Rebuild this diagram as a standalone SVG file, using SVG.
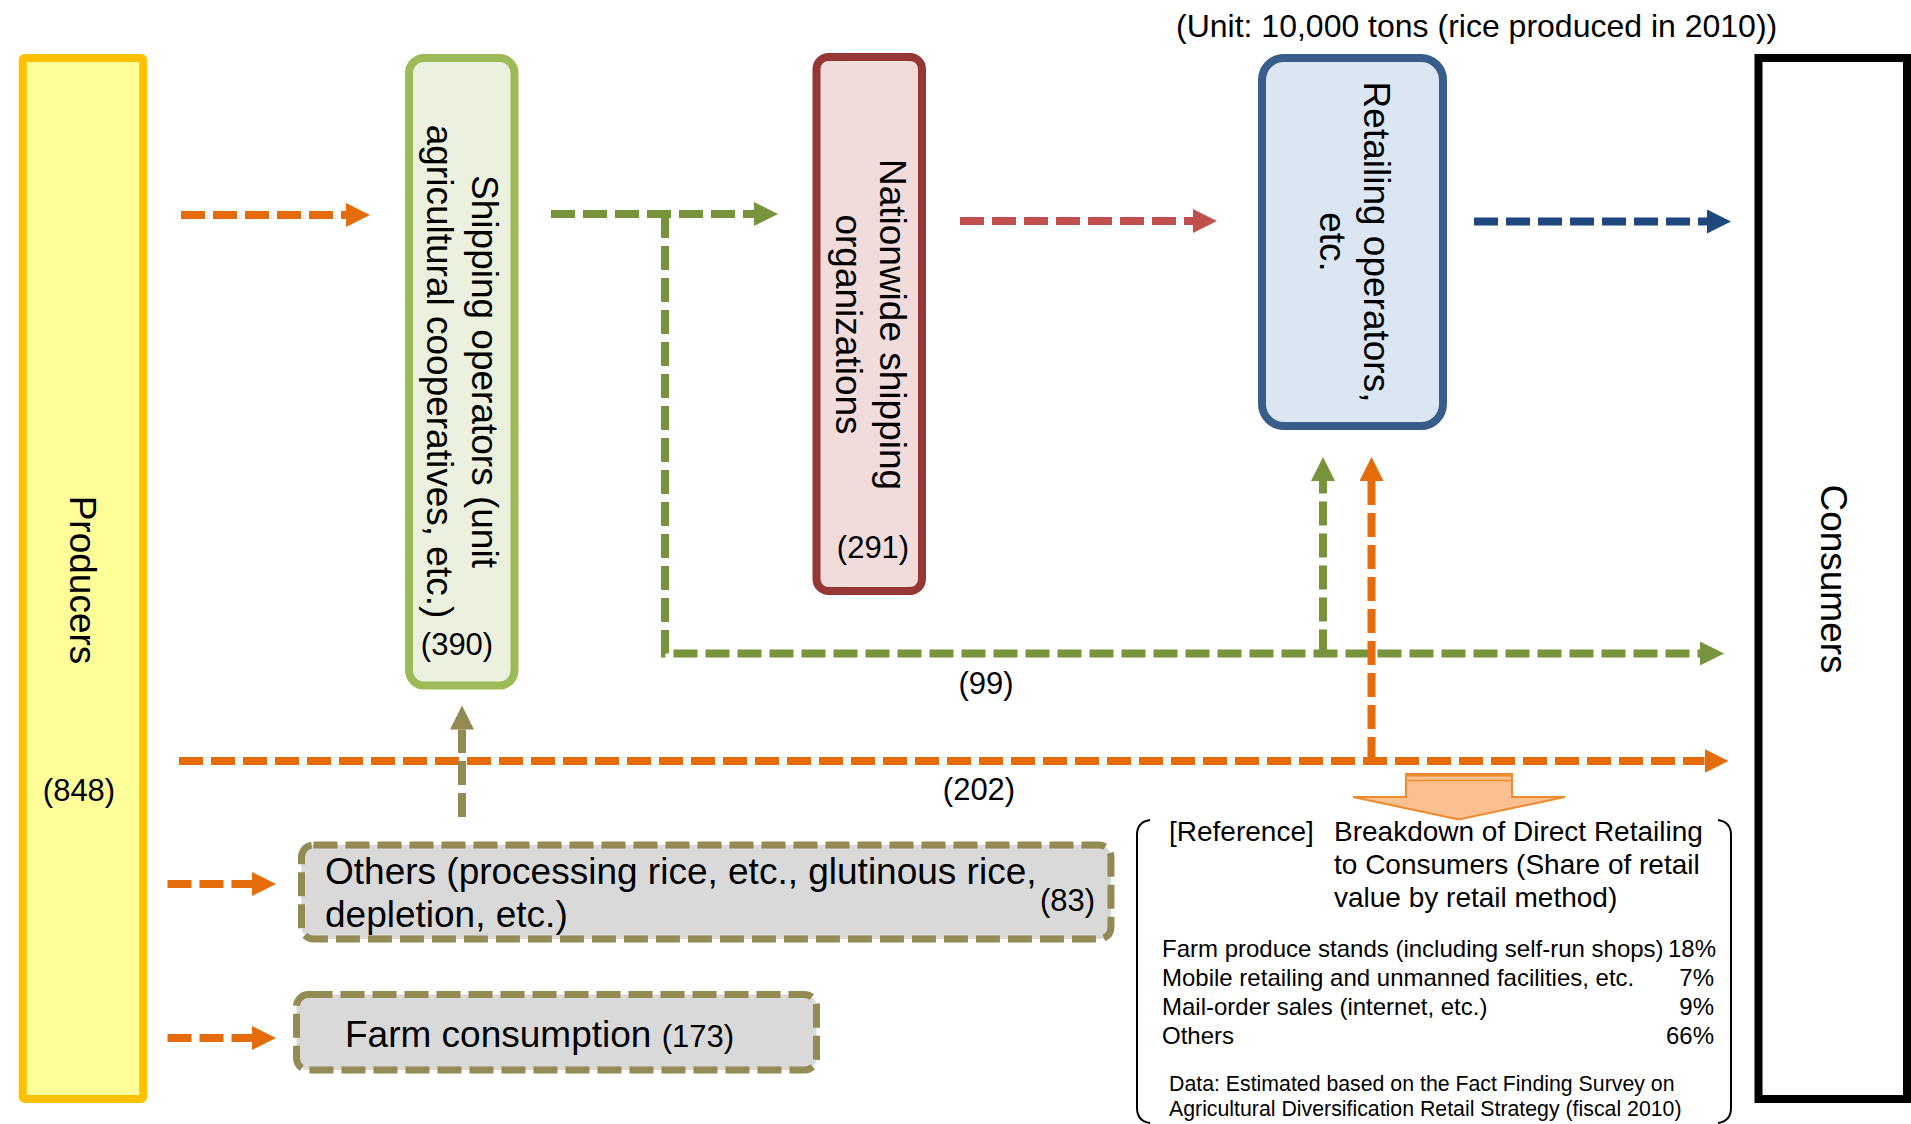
<svg xmlns="http://www.w3.org/2000/svg" width="1911" height="1124" viewBox="0 0 1911 1124">
<defs>
<style>
text{font-family:"Liberation Sans",Arial,Helvetica,sans-serif;fill:#000}
.big{font-size:37px}
.num{font-size:31px}
.unit{font-size:32px}
.ref{font-size:28px}
.list{font-size:24px}
.src{font-size:21.3px}
.flow{fill:none;stroke-width:8;stroke-dasharray:24 8}
.or{stroke:#E46C0A}
.gr{stroke:#77933C}
.rd{stroke:#C0504D}
.bl{stroke:#1F497D}
.ol{stroke:#948A54}
.dbox{fill:#D9D9D9;stroke:#948A54;stroke-width:7;stroke-dasharray:24 8}
.brk{fill:none;stroke:#000;stroke-width:2}
</style>
<marker id="m-or" markerUnits="userSpaceOnUse" markerWidth="24" markerHeight="24" viewBox="0 0 24 24" refX="0" refY="12" orient="auto"><path d="M0,0L24,12L0,24z" fill="#E46C0A"/></marker>
<marker id="m-gr" markerUnits="userSpaceOnUse" markerWidth="24" markerHeight="24" viewBox="0 0 24 24" refX="0" refY="12" orient="auto"><path d="M0,0L24,12L0,24z" fill="#77933C"/></marker>
<marker id="m-rd" markerUnits="userSpaceOnUse" markerWidth="24" markerHeight="24" viewBox="0 0 24 24" refX="0" refY="12" orient="auto"><path d="M0,0L24,12L0,24z" fill="#C0504D"/></marker>
<marker id="m-bl" markerUnits="userSpaceOnUse" markerWidth="24" markerHeight="24" viewBox="0 0 24 24" refX="0" refY="12" orient="auto"><path d="M0,0L24,12L0,24z" fill="#1F497D"/></marker>
<marker id="m-ol" markerUnits="userSpaceOnUse" markerWidth="24" markerHeight="24" viewBox="0 0 24 24" refX="0" refY="12" orient="auto"><path d="M0,0L24,12L0,24z" fill="#948A54"/></marker>
</defs>
<rect width="1911" height="1124" fill="#FFFFFF"/>

<text class="unit" x="1176" y="37">(Unit: 10,000 tons (rice produced in 2010))</text>

<g id="producers">
<rect x="22.7" y="58" width="120.5" height="1041" rx="2" fill="#FFFF99" stroke="#FFC000" stroke-width="8"/>
<text class="big" text-anchor="middle" transform="translate(70,580) rotate(90)">Producers</text>
<text class="num" x="79" y="801" text-anchor="middle">(848)</text>
</g>

<g id="shipping-operators">
<rect x="409" y="58" width="105.5" height="627.5" rx="15" fill="#EBF1DE" stroke="#9BBB59" stroke-width="8"/>
<text class="big" text-anchor="middle" transform="translate(472,371.5) rotate(90)"><tspan x="0" y="0">Shipping operators (unit</tspan><tspan x="0" y="45">agricultural cooperatives, etc.)</tspan></text>
<text class="num" x="457" y="655" text-anchor="middle">(390)</text>
</g>

<g id="nationwide-shipping">
<rect x="816.5" y="57" width="105.5" height="534" rx="12" fill="#F2DCDB" stroke="#953735" stroke-width="8"/>
<text class="big" text-anchor="middle" transform="translate(880,324.5) rotate(90)"><tspan x="0" y="0">Nationwide shipping</tspan><tspan x="0" y="44">organizations</tspan></text>
<text class="num" x="873" y="558" text-anchor="middle">(291)</text>
</g>

<g id="retailing-operators">
<rect x="1262" y="58" width="181" height="368" rx="22" fill="#DCE6F2" stroke="#385D8A" stroke-width="8"/>
<text class="big" text-anchor="middle" transform="translate(1363.5,242) rotate(90)"><tspan x="0" y="0">Retailing operators,</tspan><tspan x="0" y="44">etc.</tspan></text>
</g>

<g id="consumers">
<rect x="1758.5" y="58" width="148.5" height="1041" fill="#FFFFFF" stroke="#000000" stroke-width="8"/>
<text class="big" text-anchor="middle" transform="translate(1821,579) rotate(90)">Consumers</text>
</g>

<g id="others">
<rect class="dbox" x="301.5" y="845" width="809.5" height="94" rx="12"/>
<text class="big" x="325" y="883.5">Others (processing rice, etc., glutinous rice,</text>
<text class="big" x="325" y="927">depletion, etc.)</text>
<text class="num" x="1040" y="911">(83)</text>
</g>

<g id="farm-consumption">
<rect class="dbox" x="296.5" y="994.5" width="520" height="75.5" rx="12"/>
<text class="big" x="345" y="1046.5">Farm consumption <tspan class="num">(173)</tspan></text>
</g>

<g id="reference">
<path d="M1406,774 H1512 V797 H1565 L1458.5,819.5 L1353,797 H1406 Z" fill="#FAC090" stroke="#F08A2E" stroke-width="2"/>
<line x1="1406" y1="775" x2="1512" y2="775" stroke="#F08A2E" stroke-width="3"/>
<line x1="1407" y1="780.5" x2="1511" y2="780.5" stroke="#F08A2E" stroke-width="1.5"/>
<path class="brk" d="M1150,820 Q1137,822 1137,835 V1108 Q1137,1121 1150,1123"/>
<path class="brk" d="M1718,820 Q1731,822 1731,835 V1108 Q1731,1121 1718,1123"/>
<text class="ref" x="1169" y="841">[Reference]</text>
<text class="ref" x="1334" y="841">Breakdown of Direct Retailing</text>
<text class="ref" x="1334" y="874">to Consumers (Share of retail</text>
<text class="ref" x="1334" y="907">value by retail method)</text>
<text class="list" x="1162" y="957">Farm produce stands (including self-run shops)</text>
<text class="list" x="1162" y="986">Mobile retailing and unmanned facilities, etc.</text>
<text class="list" x="1162" y="1015">Mail-order sales (internet, etc.)</text>
<text class="list" x="1162" y="1044">Others</text>
<text class="list" x="1716" y="957" text-anchor="end">18%</text>
<text class="list" x="1714" y="986" text-anchor="end">7%</text>
<text class="list" x="1714" y="1015" text-anchor="end">9%</text>
<text class="list" x="1714" y="1044" text-anchor="end">66%</text>
<text class="src" x="1169" y="1091">Data: Estimated based on the Fact Finding Survey on</text>
<text class="src" x="1169" y="1116">Agricultural Diversification Retail Strategy (fiscal 2010)</text>
</g>

<g id="connectors">
<path class="flow or" d="M181,215 H346" marker-end="url(#m-or)"/>
<path class="flow gr" d="M551,214 H754" marker-end="url(#m-gr)"/>
<path class="flow rd" d="M960,221 H1193" marker-end="url(#m-rd)"/>
<path class="flow bl" d="M1474,221.5 H1707" marker-end="url(#m-bl)"/>
<path class="flow gr" d="M665,214 V653.5 H1700" marker-end="url(#m-gr)"/>
<path class="flow gr" d="M1323,653.5 V481" marker-end="url(#m-gr)"/>
<path class="flow or" d="M179,761 H1704.5" marker-end="url(#m-or)"/>
<path class="flow or" d="M1371.5,761 V481" marker-end="url(#m-or)"/>
<path class="flow ol" d="M462,817 V729.5" marker-end="url(#m-ol)"/>
<path class="flow or" d="M167.5,884 H252" marker-end="url(#m-or)"/>
<path class="flow or" d="M167.5,1038 H252" marker-end="url(#m-or)"/>
<text class="num" x="986" y="694" text-anchor="middle">(99)</text>
<text class="num" x="979" y="800" text-anchor="middle">(202)</text>
</g>
</svg>
